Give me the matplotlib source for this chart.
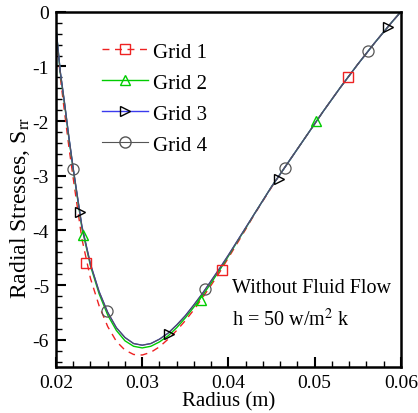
import matplotlib
matplotlib.use("Agg")
import matplotlib.pyplot as plt
from matplotlib.lines import Line2D
from matplotlib.ticker import MultipleLocator

plt.rcParams['font.family'] = ['Liberation Serif', 'DejaVu Serif']
plt.rcParams['mathtext.fontset'] = 'stix'
plt.rcParams['axes.unicode_minus'] = False

# radius samples (m)
radius = [0.020, 0.0205, 0.021, 0.0215, 0.022, 0.023, 0.024, 0.025, 0.026, 0.027,
          0.028, 0.029, 0.030, 0.031, 0.032, 0.033, 0.034, 0.035, 0.036, 0.037,
          0.038, 0.039, 0.040, 0.041, 0.042, 0.043, 0.044, 0.045, 0.046, 0.047,
          0.048, 0.049, 0.050, 0.051, 0.052, 0.053, 0.054, 0.055, 0.056, 0.057,
          0.058, 0.059, 0.060]

grid1 = [-0.30, -1.20, -1.85, -2.48, -3.05, -4.15, -4.88, -5.38, -5.76, -6.03,
         -6.19, -6.27, -6.28, -6.23, -6.13, -5.99, -5.83, -5.65, -5.45, -5.23,
         -5.00, -4.76, -4.50, -4.24, -3.98, -3.71, -3.46, -3.21, -2.97, -2.74,
         -2.51, -2.28, -2.05, -1.82, -1.60, -1.38, -1.17, -0.96, -0.76, -0.56,
         -0.37, -0.18, 0.00]

grid2 = [-0.30, -1.12, -1.70, -2.32, -2.89, -3.95, -4.65, -5.16, -5.55, -5.83,
         -6.02, -6.12, -6.15, -6.12, -6.04, -5.93, -5.78, -5.60, -5.40, -5.19,
         -4.96, -4.72, -4.47, -4.21, -3.96, -3.70, -3.45, -3.20, -2.97, -2.74,
         -2.51, -2.28, -2.05, -1.82, -1.60, -1.38, -1.17, -0.96, -0.76, -0.56,
         -0.37, -0.18, 0.00]

grid3 = [-0.30, -1.10, -1.68, -2.30, -2.87, -3.92, -4.62, -5.12, -5.50, -5.78,
         -5.96, -6.07, -6.10, -6.07, -5.99, -5.88, -5.73, -5.56, -5.36, -5.15,
         -4.92, -4.69, -4.45, -4.20, -3.95, -3.70, -3.45, -3.20, -2.97, -2.74,
         -2.51, -2.28, -2.05, -1.82, -1.60, -1.38, -1.17, -0.96, -0.76, -0.56,
         -0.37, -0.18, 0.00]

grid4 = [-0.30, -1.10, -1.68, -2.30, -2.87, -3.92, -4.62, -5.12, -5.50, -5.78,
         -5.96, -6.07, -6.10, -6.07, -5.99, -5.88, -5.73, -5.56, -5.36, -5.15,
         -4.92, -4.69, -4.45, -4.20, -3.95, -3.70, -3.45, -3.20, -2.97, -2.74,
         -2.51, -2.28, -2.05, -1.82, -1.60, -1.38, -1.17, -0.96, -0.76, -0.56,
         -0.37, -0.18, 0.00]

# marker positions
g1_mx = [0.02348, 0.03925, 0.05386]
g1_my = [-4.59, -4.73, -1.19]
g2_mx = [0.02313, 0.0368, 0.05014]
g2_my = [-4.08, -5.28, -1.99]
g3_mx = [0.02278, 0.0331, 0.04586, 0.0585]
g3_my = [-3.66, -5.89, -3.05, -0.27]
g4_mx = [0.0220, 0.0259, 0.0373, 0.04655, 0.0562]
g4_my = [-2.87, -5.48, -5.08, -2.85, -0.71]

labels = ['Grid 1', 'Grid 2', 'Grid 3', 'Grid 4']

fig = plt.figure(figsize=(4.18, 4.14), dpi=100)
ax = fig.add_axes([0.134, 0.111, 0.825, 0.858])

c1, c2, c3, c4 = '#ee2222', '#00cc00', '#3a3aee', '#555555'

ax.plot(radius, grid1, color=c1, lw=1.0, dashes=(5, 4))
ax.plot(radius, grid2, color=c2, lw=1.0)
ax.plot(radius, grid3, color=c3, lw=1.0)
ax.plot(radius, grid4, color=c4, lw=0.8)

ax.plot(g1_mx, g1_my, ls='none', marker='s', ms=6.5, mfc='none', mec=c1, mew=1.0)
ax.plot(g2_mx, g2_my, ls='none', marker='^', ms=7.5, mfc='none', mec=c2, mew=1.0)
ax.plot(g3_mx, g3_my, ls='none', marker='>', ms=7.5, mfc='none', mec='black', mew=1.0)
ax.plot(g4_mx, g4_my, ls='none', marker='o', ms=8, mfc='none', mec=c4, mew=0.9)

handles = [
    Line2D([], [], color=c1, lw=1.0, dashes=(5, 4), marker='s', ms=6.5, mfc='none', mec=c1),
    Line2D([], [], color=c2, lw=1.0, marker='^', ms=7.5, mfc='none', mec=c2),
    Line2D([], [], color=c3, lw=1.0, marker='>', ms=7.5, mfc='none', mec='black'),
    Line2D([], [], color=c4, lw=0.8, marker='o', ms=8, mfc='none', mec=c4),
]
ax.legend(handles, labels, frameon=False, loc='upper left',
          bbox_to_anchor=(0.08, 0.968), fontsize=15, handlelength=2.2,
          handletextpad=0.25, labelspacing=0.55)

ax.set_xlim(0.02, 0.06)
ax.set_ylim(-6.5, 0)
ax.xaxis.set_major_locator(MultipleLocator(0.01))
ax.xaxis.set_minor_locator(MultipleLocator(0.002))
ax.yaxis.set_major_locator(MultipleLocator(1))
ax.yaxis.set_minor_locator(MultipleLocator(0.2))
ax.set_xticks([0.02, 0.03, 0.04, 0.05, 0.06])
ax.set_xticklabels(['0.02', '0.03', '0.04', '0.05', '0.06'])
ax.tick_params(which='both', direction='in', top=False, right=False,
               labelsize=14, width=1.5)
ax.tick_params(which='major', length=7, pad=5)
ax.tick_params(which='minor', length=4, width=1.0)
for s in ax.spines.values():
    s.set_linewidth(1.8)

ax.set_xlabel('Radius (m)', fontsize=15, labelpad=0)
ax.set_ylabel(r'Radial Stresses, S$_{\mathrm{rr}}$', fontsize=17)
ax.yaxis.set_label_coords(-0.07, 0.45)

ax.text(0.51, 0.225, 'Without Fluid Flow', transform=ax.transAxes, fontsize=14.5,
        va='center', ha='left')
ax.text(0.51, 0.135, r'h = 50 w/m$^{2}$ k', transform=ax.transAxes, fontsize=14.5,
        va='center', ha='left')

fig.savefig('out.png', dpi=100)
